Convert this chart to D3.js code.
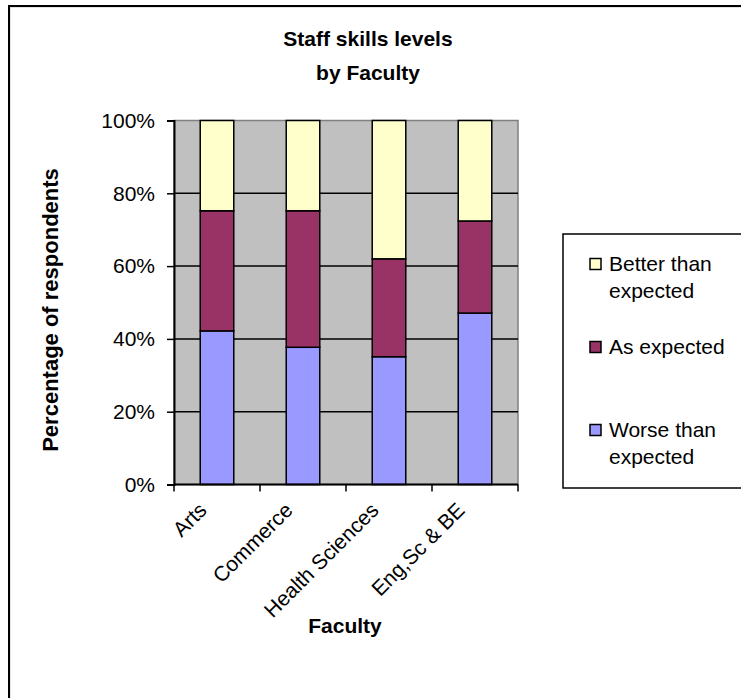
<!DOCTYPE html>
<html>
<head>
<meta charset="utf-8">
<script src="https://cdn.jsdelivr.net/npm/d3@7"></script>
<style>
  html, body { margin: 0; padding: 0; background: #fff; }
  svg { display: block; font-family: "Liberation Sans", Arial, sans-serif; }
</style>
</head>
<body>
<svg id="chart" width="741" height="698"></svg>
<script>
// Faculties along the x axis
const categories = ["Arts", "Commerce", "Health Sciences", "Eng,Sc & BE"];
// Share of respondents (%) in each rating, per faculty
const worse  = [42.2, 37.7, 35.1, 47.1];
const asExp  = [33.0, 37.5, 26.9, 25.3];
const better = [24.8, 24.8, 38.0, 27.6];
const seriesNames = ["Worse than expected", "As expected", "Better than expected"];
const seriesColors = ["#9999FF", "#993366", "#FFFFCC"];
const yTicks = [0, 20, 40, 60, 80, 100];

const svg = d3.select("#chart");

// Outer chart frame
svg.append("rect")
  .attr("x", 10).attr("y", 7).attr("width", 760).attr("height", 720)
  .attr("fill", "none").attr("stroke", "#c8c8c8").attr("stroke-width", 1);
svg.append("rect")
  .attr("x", 9).attr("y", 6).attr("width", 760).attr("height", 720)
  .attr("fill", "none").attr("stroke", "#000").attr("stroke-width", 2);

const plot = { left: 174, right: 518, top: 120.5, bottom: 484.5 };

const x = d3.scaleBand()
  .domain(categories)
  .range([plot.left, plot.right])
  .paddingInner(0.61)
  .paddingOuter(0.305);

const xOuter = d3.scaleBand().domain(categories).range([plot.left, plot.right]);

const y = d3.scaleLinear().domain([0, 100]).range([plot.bottom, plot.top]);

// Plot area background
svg.append("rect")
  .attr("x", plot.left).attr("y", plot.top)
  .attr("width", plot.right - plot.left).attr("height", plot.bottom - plot.top)
  .attr("fill", "#C0C0C0").attr("stroke", "#808080").attr("stroke-width", 1.5);

// Horizontal gridlines
svg.append("g").selectAll("line")
  .data(yTicks.filter(t => t > 0 && t < 100))
  .join("line")
  .attr("x1", plot.left).attr("x2", plot.right)
  .attr("y1", d => y(d)).attr("y2", d => y(d))
  .attr("stroke", "#000").attr("stroke-width", 1.5);

// Stacked bars
const rows = categories.map((c, i) => ({ cat: c, w: worse[i], a: asExp[i], b: better[i] }));
const stack = d3.stack().keys(["w", "a", "b"]);
const layers = stack(rows);

svg.append("g").selectAll("g")
  .data(layers)
  .join("g")
  .attr("fill", (d, i) => seriesColors[i])
  .selectAll("rect")
  .data(d => d)
  .join("rect")
  .attr("x", d => x(d.data.cat))
  .attr("width", x.bandwidth())
  .attr("y", d => y(d[1]))
  .attr("height", d => y(d[0]) - y(d[1]))
  .attr("stroke", "#000").attr("stroke-width", 1.5);

// Y axis
const yAxis = d3.axisLeft(y)
  .tickValues(yTicks)
  .tickFormat(d => d + "%")
  .tickSize(7)
  .tickPadding(12);
const gy = svg.append("g").attr("transform", `translate(${plot.left},0)`).call(yAxis);
gy.select(".domain").attr("stroke", "#000").attr("stroke-width", 2);
gy.selectAll(".tick line").attr("stroke", "#000").attr("stroke-width", 1.5);
gy.selectAll("text").attr("font-size", 21).attr("fill", "#000")
  .attr("font-family", "Liberation Sans, Arial, sans-serif");

// X axis: ticks at category boundaries
const bounds = categories.map(c => xOuter(c)).concat([plot.right]);
const gx = svg.append("g");
gx.append("line")
  .attr("x1", plot.left).attr("x2", plot.right)
  .attr("y1", plot.bottom).attr("y2", plot.bottom)
  .attr("stroke", "#000").attr("stroke-width", 2);
gx.selectAll("line.tick")
  .data(bounds)
  .join("line")
  .attr("class", "tick")
  .attr("x1", d => d).attr("x2", d => d)
  .attr("y1", plot.bottom).attr("y2", plot.bottom + 7)
  .attr("stroke", "#000").attr("stroke-width", 1.5);

// Rotated category labels
gx.selectAll("text")
  .data(categories)
  .join("text")
  .attr("transform", d => {
    const cx = xOuter(d) + xOuter.bandwidth() / 2 - 9;
    return `translate(${cx},${plot.bottom + 27}) rotate(-45)`;
  })
  .attr("text-anchor", "end")
  .attr("font-size", 21)
  .text(d => d);

// Title
const title = svg.append("text")
  .attr("text-anchor", "middle")
  .attr("font-size", 21).attr("font-weight", "bold");
title.append("tspan").attr("x", 368).attr("y", 46).text("Staff skills levels");
title.append("tspan").attr("x", 368).attr("y", 80).text("by Faculty");

// Axis titles
svg.append("text")
  .attr("transform", `translate(58,310) rotate(-90)`)
  .attr("text-anchor", "middle")
  .attr("font-size", 22).attr("font-weight", "bold")
  .text("Percentage of respondents");

svg.append("text")
  .attr("x", 345).attr("y", 633)
  .attr("text-anchor", "middle")
  .attr("font-size", 21).attr("font-weight", "bold")
  .text("Faculty");

// Legend
const legend = svg.append("g");
legend.append("rect")
  .attr("x", 563).attr("y", 234).attr("width", 200).attr("height", 254)
  .attr("fill", "#fff").attr("stroke", "#000").attr("stroke-width", 1.5);

const legendItems = [
  { i: 2, y: 264, lines: ["Better than", "expected"] },
  { i: 1, y: 347, lines: ["As expected"] },
  { i: 0, y: 430, lines: ["Worse than", "expected"] }
];
legendItems.forEach(item => {
  legend.append("rect")
    .attr("x", 590).attr("y", item.y - 5.5)
    .attr("width", 11).attr("height", 11)
    .attr("fill", seriesColors[item.i])
    .attr("stroke", "#000").attr("stroke-width", 1.5);
  const t = legend.append("text")
    .attr("font-size", 21).attr("fill", "#000");
  item.lines.forEach((ln, k) => {
    t.append("tspan").attr("x", 609).attr("y", item.y + 7 + k * 27).text(ln);
  });
});
</script>
</body>
</html>
